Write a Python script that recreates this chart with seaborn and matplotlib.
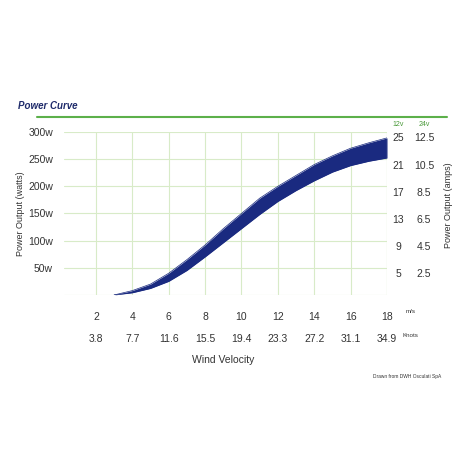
import matplotlib
matplotlib.use("Agg")
import matplotlib.pyplot as plt
import seaborn as sns
import numpy as np

sns.set_style("white")
plt.rcParams['font.family'] = ['Liberation Sans', 'DejaVu Sans']

wind = [3, 4, 5, 6, 7, 8, 9, 10, 11, 12, 13, 14, 15, 16, 17, 18]
upper = [0, 8, 20, 40, 65, 92, 122, 150, 178, 200, 220, 240, 256, 270, 280, 289]
lower = [0, 4, 12, 25, 45, 70, 96, 122, 148, 172, 192, 210, 226, 238, 246, 252]
ms_ticks = [2, 4, 6, 8, 10, 12, 14, 16, 18]
knots = ["3.8", "7.7", "11.6", "15.5", "19.4", "23.3", "27.2", "31.1", "34.9"]
w_ticks = [50, 100, 150, 200, 250, 300]
amps12 = ["5", "9", "13", "17", "21", "25"]
amps24 = ["2.5", "4.5", "6.5", "8.5", "10.5", "12.5"]

navy = "#1a2a80"
grid = "#d8ebc8"
txt = "#333333"

fig = plt.figure(figsize=(4.58, 4.58), dpi=100)
ax = fig.add_axes([0.14, 0.356, 0.705, 0.356])
sns.lineplot(x=wind, y=upper, ax=ax, color=navy, lw=0.5)
sns.lineplot(x=wind, y=lower, ax=ax, color=navy, lw=0.5)
ax.fill_between(wind, lower, upper, color=navy, lw=0)
ax.set_xlim(0.25, 18)
ax.set_ylim(0, 300)
ax.set_xticks(ms_ticks)
ax.set_yticks(w_ticks)
ax.set_xticklabels([str(t) for t in ms_ticks], fontsize=7.5, color=txt)
ax.set_yticklabels([f"{t}w" for t in w_ticks], fontsize=7.5, color=txt)
ax.tick_params(length=0, pad=12)
ax.tick_params(axis='y', pad=8)
ax.grid(True, color=grid, lw=0.8)
for s in ax.spines.values():
    s.set_visible(False)
ax.axvline(18, color=grid, lw=0.8)
ax.axhline(0, color=grid, lw=0.8)
ax.set_ylabel("Power Output (watts)", fontsize=6.5, color=txt, labelpad=2)

tr = matplotlib.transforms.blended_transform_factory(ax.transData, ax.transAxes)
for x, k in zip(ms_ticks, knots):
    ax.text(x, -0.27, k, transform=tr, ha='center', va='center', fontsize=7.5, color=txt)
ax.text(19.3, -0.1, "m/s", transform=tr, ha='center', va='center', fontsize=4.5, color=txt)
ax.text(19.3, -0.25, "Knots", transform=tr, ha='center', va='center', fontsize=4.5, color=txt)
ax.text(9, -0.4, "Wind Velocity", transform=tr, ha='center', va='center', fontsize=7.5, color=txt)
ax.text(21, -0.5, "Drawn from DWH Osculati SpA", transform=tr, ha='right', va='center', fontsize=3.5, color=txt)

tr2 = matplotlib.transforms.blended_transform_factory(ax.transAxes, ax.transData)
for y, a, b in zip(w_ticks, amps12, amps24):
    ax.text(1.035, y - 12, a, transform=tr2, ha='center', va='center', fontsize=7.5, color=txt)
    ax.text(1.115, y - 12, b, transform=tr2, ha='center', va='center', fontsize=7.5, color=txt)
ax.text(1.035, 1.025, "12v", transform=ax.transAxes, ha='center', va='bottom', fontsize=5, color="#4a9a3a")
ax.text(1.115, 1.025, "24v", transform=ax.transAxes, ha='center', va='bottom', fontsize=5, color="#4a9a3a")
ax.text(1.19, 0.55, "Power Output (amps)", transform=ax.transAxes, rotation=90, ha='center', va='center', fontsize=6.5, color=txt)

fig.add_artist(matplotlib.lines.Line2D([37/458, 447/458], [1-117/458, 1-117/458], color="#5cb04a", lw=1.5))
fig.text(18/458, 1-106/458, "Power Curve", fontsize=7, fontweight='bold', fontstyle='italic', color="#1e2a6a", va='center')

fig.savefig("out.png", dpi=100)
